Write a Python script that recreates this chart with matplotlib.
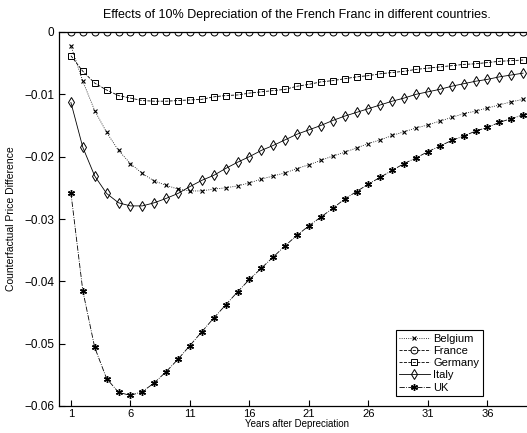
import numpy as np
import matplotlib
matplotlib.use('Agg')
import matplotlib.pyplot as plt

plt.rcParams['font.family'] = ['Liberation Sans', 'DejaVu Sans']

# years after depreciation
years = list(range(1, 40))

belgium = [-0.0022, -0.0079, -0.0126, -0.0161, -0.0190, -0.0211, -0.0227, -0.0239, -0.0246, -0.0252,
           -0.0255, -0.0255, -0.0252, -0.0250, -0.0247, -0.0242, -0.0236, -0.0231, -0.0226, -0.0219,
           -0.0213, -0.0206, -0.0199, -0.0193, -0.0186, -0.0179, -0.0173, -0.0166, -0.0160, -0.0154,
           -0.0149, -0.0143, -0.0137, -0.0131, -0.0127, -0.0122, -0.0117, -0.0112, -0.0108]
france = [0.0] * 39
germany = [-0.0038, -0.0063, -0.0082, -0.0093, -0.0102, -0.0106, -0.0110, -0.0111, -0.0111, -0.0110,
           -0.0109, -0.0108, -0.0104, -0.0102, -0.0101, -0.0098, -0.0096, -0.0094, -0.0092, -0.0087,
           -0.0084, -0.0080, -0.0078, -0.0075, -0.0072, -0.0070, -0.0067, -0.0065, -0.0063, -0.0060,
           -0.0058, -0.0056, -0.0054, -0.0052, -0.0051, -0.0049, -0.0047, -0.0046, -0.0045]
italy = [-0.0113, -0.0185, -0.0231, -0.0259, -0.0274, -0.0279, -0.0279, -0.0274, -0.0267, -0.0259,
         -0.0248, -0.0238, -0.0230, -0.0219, -0.0209, -0.0200, -0.0190, -0.0182, -0.0173, -0.0164,
         -0.0157, -0.0150, -0.0142, -0.0135, -0.0129, -0.0123, -0.0117, -0.0111, -0.0106, -0.0100,
         -0.0096, -0.0092, -0.0087, -0.0083, -0.0079, -0.0076, -0.0072, -0.0069, -0.0066]
uk = [-0.0258, -0.0415, -0.0506, -0.0556, -0.0578, -0.0583, -0.0577, -0.0563, -0.0545, -0.0525,
      -0.0503, -0.0481, -0.0459, -0.0438, -0.0417, -0.0397, -0.0379, -0.0361, -0.0343, -0.0326,
      -0.0311, -0.0297, -0.0283, -0.0268, -0.0256, -0.0244, -0.0233, -0.0222, -0.0211, -0.0202,
      -0.0192, -0.0183, -0.0174, -0.0167, -0.0159, -0.0153, -0.0145, -0.0139, -0.0133]

xticks = [1, 6, 11, 16, 21, 26, 31, 36]
yticks = [0, -0.01, -0.02, -0.03, -0.04, -0.05, -0.06]
ytick_labels = ['0', '\u22120.01', '\u22120.02', '\u22120.03', '\u22120.04', '\u22120.05', '\u22120.06']

fig = plt.figure(figsize=(5.27, 4.33), dpi=100)
# right edge of the box falls just outside the picture, as in the original
ax = fig.add_axes([59 / 527, 27 / 433, 476 / 527, 374 / 433])

lw = 0.6
asterisk = (6, 2, 0)
ax.plot(years, belgium, ':', color='k', lw=lw, marker='x', ms=3.5, mew=0.8, label='Belgium')
ax.plot(years, france, '--', color='k', lw=lw, marker='o', ms=5, mfc='none', mew=0.7, label='France')
ax.plot(years, germany, '--', color='k', lw=lw, marker='s', ms=4.3, mfc='none', mew=0.7, label='Germany')
ax.plot(years, italy, '-', color='k', lw=lw, marker='d', ms=5.2, mfc='none', mew=0.7, label='Italy')
ax.plot(years, uk, '-.', color='k', lw=lw, marker=asterisk, ms=5, mew=1.0, label='UK')

ax.set_xlim(0, 40)
ax.set_ylim(-0.06, 0)
ax.set_xticks(xticks)
ax.set_yticks(yticks)
ax.set_yticklabels(ytick_labels)
ax.tick_params(direction='in', labelsize=8.5, length=4, width=0.8)
ax.tick_params(axis='x', pad=2, labelsize=8)
for s in ax.spines.values():
    s.set_linewidth(0.9)

ax.set_title('Effects of 10% Depreciation of the French Franc in different countries.', fontsize=9, pad=10)
ax.set_xlabel('Years after Depreciation', fontsize=7, labelpad=0.5)
ax.set_ylabel('Counterfactual Price Difference', fontsize=7.5, labelpad=6)

leg = ax.legend(loc='lower right', bbox_to_anchor=(0.89, 0.027), fontsize=8, fancybox=False,
                framealpha=1, edgecolor='k', handlelength=2.8, borderaxespad=0,
                labelspacing=0.2, handletextpad=0.3, borderpad=0.3)
leg.get_frame().set_linewidth(0.8)

fig.savefig('out.png', dpi=100)
